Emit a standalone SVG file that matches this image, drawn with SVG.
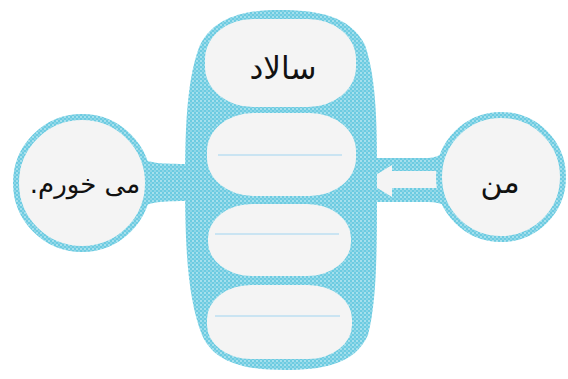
<svg xmlns="http://www.w3.org/2000/svg" width="568" height="379" viewBox="0 0 568 379">
  <defs>
    <pattern id="tex" width="4" height="4" patternUnits="userSpaceOnUse">
      <rect width="4" height="4" fill="#6ccbe1"/>
      <circle cx="1" cy="1" r="1" fill="#b8e7f1"/>
      <circle cx="3" cy="3" r="0.9" fill="#9edcea"/>
    </pattern>
    <style>
      .blue { fill: url(#tex); }
      .paper { fill: #f4f4f4; }
      .ring { fill: #f4f4f4; stroke: url(#tex); stroke-width: 6; }
      .rule { stroke: #9fd3ef; stroke-width: 1.2; fill: none; }
      .fa { font-family: 'DejaVu Sans', 'Noto Sans', sans-serif; fill: #111; text-anchor: middle; direction: rtl; }
    </style>
  </defs>
  <rect width="568" height="379" fill="#ffffff"/>

  <g id="connectors">
    <path id="left-link" class="blue" d="M140,158 C150,163 160,164 190,164 L190,201 C160,201 150,202 140,208 Z"/>
    <path id="right-link" class="blue" d="M372,158 L428,158 C436,158 442,154 448,150 L448,206 C442,204 436,202 428,202 L372,202 Z"/>
    <path id="right-arrow" class="paper" d="M366,181 L392,165 L392,171 L445,171 L445,188 L392,188 L392,197 Z"/>
  </g>

  <g id="salad-column">
    <path class="blue" d="M200,45 C215,15 250,10 280,10 C315,10 350,15 365,45 C377,80 377,130 377,180 C377,250 377,300 368,335 C355,365 320,370 285,370 C250,370 215,365 202,335 C188,300 185,250 185,180 C185,120 188,75 200,45 Z"/>
  </g>

  <g id="box-1">
    <rect class="paper" x="205" y="19" width="151" height="88" rx="48" ry="40"/>
    <text class="fa" x="283" y="79" font-size="31">سالاد</text>
  </g>
  <g id="box-2">
    <rect class="paper" x="207" y="113" width="149" height="83" rx="46" ry="38"/>
    <line class="rule" x1="218" y1="155" x2="342" y2="155"/>
  </g>
  <g id="box-3">
    <rect class="paper" x="208" y="204" width="143" height="72" rx="44" ry="34"/>
    <line class="rule" x1="215" y1="234" x2="339" y2="234"/>
  </g>
  <g id="box-4">
    <rect class="paper" x="207" y="285" width="145" height="74" rx="44" ry="34"/>
    <line class="rule" x1="215" y1="316" x2="340" y2="316"/>
  </g>

  <g id="node-left">
    <circle class="ring" cx="82" cy="183" r="66"/>
    <text class="fa" x="85" y="193" font-size="26">می خورم.</text>
  </g>

  <g id="node-right">
    <circle class="ring" cx="501" cy="177" r="62"/>
    <text class="fa" x="500" y="193" font-size="30">من</text>
  </g>
</svg>
